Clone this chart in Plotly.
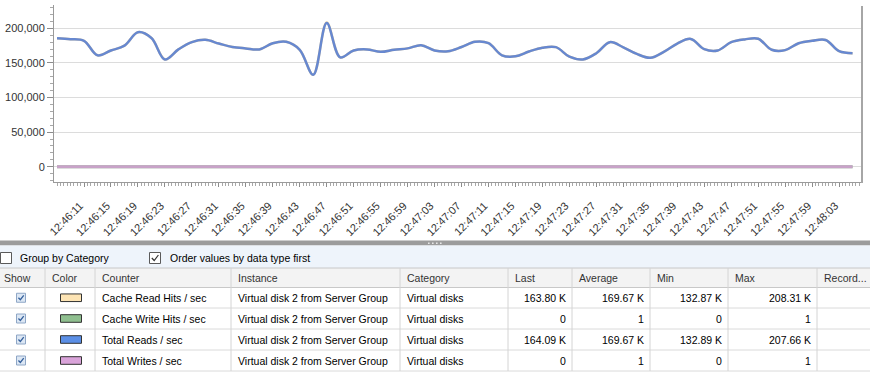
import plotly.graph_objects as go
from datetime import datetime, timedelta

W, H = 870, 380

# ---------------- data ----------------
start_time = datetime(2024, 1, 1, 12, 46, 7)
sample_step_s = 2

# Total Reads / sec (thousands), one sample every 2 s
total_reads_k = [185.7, 184.3, 182.0, 161.0, 168.0, 175.0, 194.3, 186.0, 155.0, 169.5,
                 180.0, 183.3, 178.0, 173.0, 171.0, 169.5, 178.5, 180.5, 169.0, 132.89,
                 207.66, 158.0, 168.0, 169.5, 166.0, 169.0, 171.0, 175.5, 168.0, 166.8,
                 173.0, 180.5, 178.5, 161.0, 159.5, 166.5, 172.0, 172.8, 159.0, 155.0,
                 164.0, 180.0, 172.5, 163.0, 157.5, 166.0, 178.0, 184.7, 170.0, 168.0,
                 180.0, 184.0, 185.0, 169.0, 168.5, 178.5, 182.0, 183.2, 167.0, 164.09]
# Cache Read Hits / sec (thousands)
cache_read_k = [185.6, 184.3, 182.0, 161.0, 168.0, 175.0, 194.4, 186.0, 155.0, 169.5,
                180.0, 183.3, 178.0, 173.0, 171.0, 169.5, 178.5, 180.5, 169.0, 132.87,
                208.31, 158.0, 168.0, 169.5, 166.0, 169.0, 171.0, 175.5, 168.0, 166.8,
                173.0, 180.5, 178.5, 161.0, 159.5, 166.5, 172.0, 172.8, 159.0, 155.0,
                164.0, 180.0, 172.5, 163.0, 157.5, 166.0, 178.0, 184.7, 170.0, 168.0,
                180.0, 184.0, 185.0, 169.0, 168.5, 178.5, 182.0, 183.2, 167.0, 163.80]
# Cache Write Hits / sec
cache_write = [1, 1, 1, 1, 1, 1, 1, 1, 1, 1, 1, 1, 1, 1, 1, 1, 1, 1, 1, 1,
               1, 1, 1, 1, 1, 1, 1, 1, 1, 1, 1, 1, 1, 1, 1, 1, 1, 1, 1, 1,
               1, 1, 1, 1, 1, 1, 1, 1, 1, 1, 1, 1, 1, 1, 1, 1, 1, 1, 1, 0]
# Total Writes / sec
total_writes = [1, 1, 1, 1, 1, 1, 1, 1, 1, 1, 1, 1, 1, 1, 1, 1, 1, 1, 1, 1,
                1, 1, 1, 1, 1, 1, 1, 1, 1, 1, 1, 1, 1, 1, 1, 1, 1, 1, 1, 1,
                1, 1, 1, 1, 1, 1, 1, 1, 1, 1, 1, 1, 1, 1, 1, 1, 1, 1, 1, 0]

y_tick_vals = [0, 50000, 100000, 150000, 200000]
x_tick_labels = ["12:46:11", "12:46:15", "12:46:19", "12:46:23", "12:46:27", "12:46:31",
                 "12:46:35", "12:46:39", "12:46:43", "12:46:47", "12:46:51", "12:46:55",
                 "12:46:59", "12:47:03", "12:47:07", "12:47:11", "12:47:15", "12:47:19",
                 "12:47:23", "12:47:27", "12:47:31", "12:47:35", "12:47:39", "12:47:43",
                 "12:47:47", "12:47:51", "12:47:55", "12:47:59", "12:48:03"]

# table data
col_names = ["Show", "Color", "Counter", "Instance", "Category",
             "Last", "Average", "Min", "Max", "Record..."]
shown = [True, True, True, True]
counters = ["Cache Read Hits / sec", "Cache Write Hits / sec",
            "Total Reads / sec", "Total Writes / sec"]
instances = ["Virtual disk 2 from Server Group", "Virtual disk 2 from Server Group",
             "Virtual disk 2 from Server Group", "Virtual disk 2 from Server Group"]
categories = ["Virtual disks", "Virtual disks", "Virtual disks", "Virtual disks"]
last_vals = ["163.80 K", "0", "164.09 K", "0"]
avg_vals = ["169.67 K", "1", "169.67 K", "1"]
min_vals = ["132.87 K", "0", "132.89 K", "0"]
max_vals = ["208.31 K", "1", "207.66 K", "1"]
swatch_colors = ["#fde4b4", "#8fbf8f", "#5b8fe6", "#d9a3d9"]
line_colors = ["#f5d9a0", "#8fbf8f", "#6788d0", "#c8a2c8"]

# ---------------- styling / layout helpers ----------------
FONT = "Liberation Sans, Arial, sans-serif"


def X(px):
    return px / W


def Y(py):
    return 1 - py / H


times = [start_time + timedelta(seconds=i * sample_step_s) for i in range(len(total_reads_k))]
x_tick_vals = [datetime(2024, 1, 1, int(s[0:2]), int(s[3:5]), int(s[6:8])) for s in x_tick_labels]

fig = go.Figure()
fig.add_trace(go.Scatter(x=times, y=[v * 1000 for v in cache_read_k], mode="lines",
                         line=dict(color=line_colors[0], width=2.5, shape="spline", smoothing=1.0),
                         hoverinfo="skip"))
fig.add_trace(go.Scatter(x=times, y=[v * 1000 for v in total_reads_k], mode="lines",
                         line=dict(color=line_colors[2], width=2.5, shape="spline", smoothing=1.0),
                         hoverinfo="skip"))
fig.add_trace(go.Scatter(x=times, y=cache_write, mode="lines",
                         line=dict(color=line_colors[1], width=3), hoverinfo="skip"))
fig.add_trace(go.Scatter(x=times, y=total_writes, mode="lines",
                         line=dict(color=line_colors[3], width=3), hoverinfo="skip"))

x_start = start_time - timedelta(seconds=0.45)
x_end = start_time + timedelta(seconds=119.4)

fig.update_layout(
    width=W, height=H,
    margin=dict(l=0, r=0, t=0, b=0, pad=0, autoexpand=False),
    paper_bgcolor="white", plot_bgcolor="white",
    showlegend=False,
    xaxis=dict(
        type="date", domain=[X(54), X(862)], range=[x_start, x_end], automargin=False,
        tickmode="array", tickvals=x_tick_vals, ticktext=x_tick_labels, tickangle=-45,
        ticks="outside", ticklen=4, tickcolor="#8c8c8c",
        ticklabelstandoff=8, ticklabelshift=-4,
        showline=True, linecolor="#9a9a9a", linewidth=1,
        showgrid=False, zeroline=False,
        tickfont=dict(family=FONT, size=11, color="#333333"),
        minor=dict(dtick=500, ticks="outside", ticklen=3, tickcolor="#a8a8a8", showgrid=False),
    ),
    yaxis=dict(
        domain=[Y(182), Y(5)], range=[-22100, 233700], automargin=False,
        tickmode="array", tickvals=y_tick_vals, tickformat=",d",
        ticks="outside", ticklen=6, tickcolor="#8c8c8c",
        showline=True, linecolor="#9a9a9a", linewidth=1,
        showgrid=True, gridcolor="#dcdcdc", gridwidth=1, zeroline=False,
        tickfont=dict(family=FONT, size=11, color="#333333"),
        minor=dict(dtick=10000, tick0=0, ticks="outside", ticklen=3, tickcolor="#a8a8a8", showgrid=False),
    ),
)

shapes = []
annotations = []


def rect(x0, y0, x1, y1, fill, line_color=None, lw=0):
    shapes.append(dict(type="rect", xref="paper", yref="paper",
                       x0=X(x0), x1=X(x1), y0=Y(y1), y1=Y(y0),
                       fillcolor=fill, layer="above",
                       line=dict(color=line_color or fill, width=lw)))


def hline(x0, x1, y, color, lw=1):
    shapes.append(dict(type="line", xref="paper", yref="paper",
                       x0=X(x0), x1=X(x1), y0=Y(y), y1=Y(y),
                       line=dict(color=color, width=lw), layer="above"))


def vline(x, y0, y1, color, lw=1):
    shapes.append(dict(type="line", xref="paper", yref="paper",
                       x0=X(x), x1=X(x), y0=Y(y0), y1=Y(y1),
                       line=dict(color=color, width=lw), layer="above"))


def text(x, y, s, anchor="left", size=10.5, color="#000000"):
    annotations.append(dict(xref="paper", yref="paper", x=X(x), y=Y(y), text=s,
                            showarrow=False, xanchor=anchor, yanchor="middle",
                            font=dict(family=FONT, size=size, color=color)))


def checkmark(cx, cy, s, color, lw=1.3):
    path = "M {} {} L {} {} L {} {}".format(
        X(cx - s * 0.32), Y(cy), X(cx - s * 0.08), Y(cy + s * 0.25),
        X(cx + s * 0.34), Y(cy - s * 0.3))
    shapes.append(dict(type="path", xref="paper", yref="paper", path=path,
                       line=dict(color=color, width=lw), layer="above"))


# right border of the chart
vline(862, 6, 183, "#a6a6a6", 2)

# splitter bar
rect(0, 240.5, W, 245.5, "#9c9c9c")
for gx in [428, 432, 436, 440]:
    rect(gx, 242.5, gx + 1.6, 244, "#e8e8e8")

# options toolbar
rect(0, 245.5, W, 268, "#eef4fb")
rect(0.5, 252.5, 11.5, 263.5, "white", "#5a5a5a", 1)
text(18, 258, "Group by Category", size=10.5)
rect(149.5, 252.5, 160.5, 263.5, "white", "#5a5a5a", 1)
checkmark(155, 258, 10, "#333333", 1.2)
text(167.5, 258, "Order values by data type first", size=10.5)

# table
col_edges = [0, 45, 95, 231, 400, 508, 572, 650, 728, 817, 870]
header_top, header_bot = 268, 287.5
row_edges = [287.5, 308, 329, 350, 371]

rect(0, header_top, W, header_bot, "#f3f3f3")
rect(0, header_bot, W, row_edges[-1], "white")
hline(0, W, header_top, "#c8c8c8")
hline(0, W, header_bot, "#c8c8c8")
for ry in row_edges[1:]:
    hline(0, W, ry, "#dadada")
for cx in col_edges[1:-1]:
    vline(cx, header_top, row_edges[-1], "#d4d4d4")

header_cy = (header_top + header_bot) / 2
for i, name in enumerate(col_names):
    pad = 2 if i == 0 else 5
    text(col_edges[i] + pad, header_cy, name, size=10.5, color="#333333")

left_cols = [counters, instances, categories]
right_cols = [last_vals, avg_vals, min_vals, max_vals]
for r in range(len(counters)):
    cy = (row_edges[r] + row_edges[r + 1]) / 2
    # show checkbox
    if shown[r]:
        rect(16.5, cy - 4.5, 25.5, cy + 4.5, "#dce7f4", "#8ea6c6", 1)
        checkmark(21, cy, 8, "#35609c", 1.3)
    # colour swatch
    rect(60.5, cy - 3.8, 81.5, cy + 3.8, swatch_colors[r], "#333333", 1)
    for k, col in enumerate(left_cols):
        text(col_edges[2 + k] + 5, cy, col[r])
    for k, col in enumerate(right_cols):
        text(col_edges[6 + k] - 4, cy, col[r], anchor="right")

fig.update_layout(shapes=shapes, annotations=annotations)
fig.write_html("out.html", config={"displayModeBar": False},
               post_script="document.body.style.margin='0';document.body.style.padding='0';"
                           "document.body.style.overflow='hidden';")
